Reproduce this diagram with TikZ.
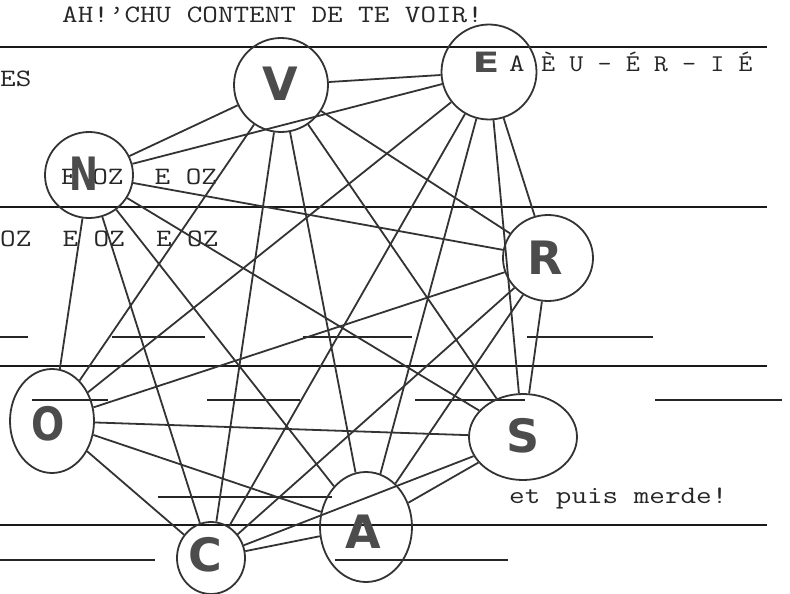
\documentclass[tikz,border=0pt]{standalone}
\usepackage{fontspec}
\newfontfamily\handfont{DejaVu Sans}
\usetikzlibrary{shapes.geometric}
\begin{document}
\begin{tikzpicture}[x=1pt,y=-1pt,
  typed/.style={anchor=base west, inner sep=0pt, text=black!85, xscale=1.21, font=\ttfamily\fontsize{25pt}{25pt}\selectfont},
  typedsmall/.style={anchor=base west, inner sep=0pt, text=black!85, xscale=1.14, font=\ttfamily\fontsize{24pt}{24pt}\selectfont},
  ring/.style={ellipse, draw=black!80, line width=1.8pt, inner sep=0pt},
  letter/.style={inner sep=0pt, text=black!70, font=\handfont\bfseries\fontsize{46pt}{46pt}\selectfont},
  edge/.style={draw=black!80, line width=1.8pt},
  rulebig/.style={draw=black!90, line width=2.4pt},
  rulesmall/.style={draw=black!85, line width=1.8pt}
]
\useasboundingbox[fill=white] (0,0) rectangle (790,594);

% typed rules
\foreach \y in {47,207,366,525} \draw[rulebig] (0,\y) -- (767,\y);
\foreach \xa/\xb/\y in {0/28/337,112/205/337,303/412/337,527/653/337,
                        32/108/400,207/300/400,415/525/400,655/782/400,
                        158/332/497,0/155/560,335/508/560}
  \draw[rulesmall] (\xa,\y) -- (\xb,\y);

% typed text
\node[typed] (t1) at (62,23) {AH!’CHU CONTENT DE TE VOIR!};
\node[typed] (t2) at (0,87) {ES};
\node[typed] (t3) at (509,72) {A};
\node[typedsmall] (t4) at (541,72) {È U - É R - I É};
\node[typed] (t5) at (61,184) {E OZ~~E OZ};
\node[typed] (t6) at (0,246) {OZ~~E OZ~~E OZ};
\node[typed] (t7) at (509,503) {et puis merde!};

% circles
\node[ring, minimum width=94pt, minimum height=94pt] (V) at (281,85) {};
\node[ring, minimum width=95pt, minimum height=95pt] (E) at (489,72) {};
\node[ring, minimum width=88pt, minimum height=86pt] (N) at (89,175) {};
\node[ring, minimum width=90pt, minimum height=86pt] (R) at (548,258) {};
\node[ring, minimum width=84pt, minimum height=104pt] (O) at (52,421) {};
\node[ring, minimum width=108pt, minimum height=86pt] (S) at (523,437) {};
\node[ring, minimum width=92pt, minimum height=110pt] (A) at (366,527) {};
\node[ring, minimum width=68pt, minimum height=72pt] (C) at (211,558) {};

% edges
\foreach \a/\b in {V/E,V/N,V/R,V/O,V/S,V/A,V/C,
                   E/N,E/R,E/O,E/S,E/A,E/C,
                   N/R,N/O,N/S,N/A,N/C,
                   R/O,R/S,R/A,R/C,
                   O/S,O/A,O/C,
                   S/A,S/C,
                   A/C}
  \draw[edge] (\a) -- (\b);

% letters
\node[letter] (lV) at (280,84) {V};
\node[letter, font=\handfont\bfseries\fontsize{28pt}{28pt}\selectfont, xscale=1.4] (lE) at (486,62) {E};
\node[letter, xscale=0.75] (lN) at (84,174) {N};
\node[letter] (lR) at (545,258) {R};
\node[letter, xscale=0.85] (lO) at (48,424) {O};
\node[letter] (lS) at (523,436) {S};
\node[letter] (lA) at (363,532) {A};
\node[letter] (lC) at (205,555) {C};
\end{tikzpicture}
\end{document}
